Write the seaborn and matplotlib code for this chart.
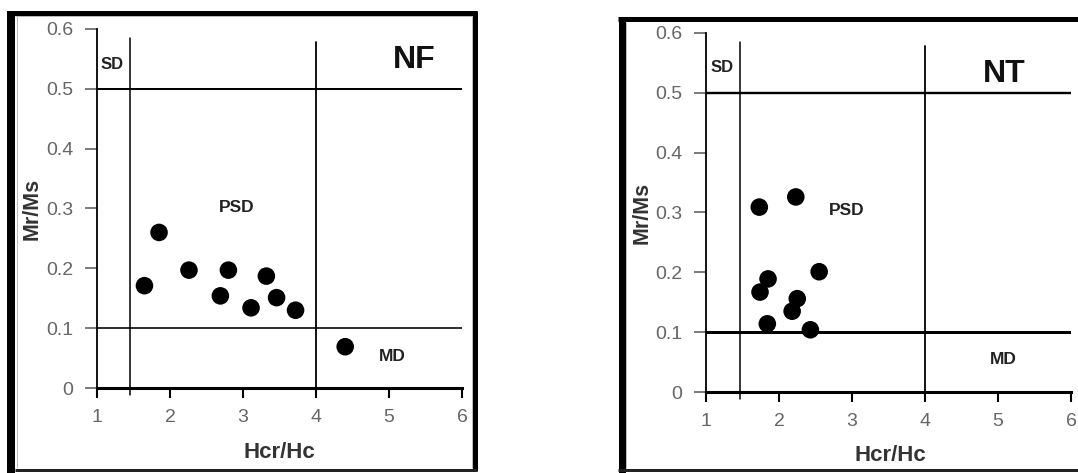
import matplotlib
matplotlib.use("Agg")
import matplotlib.pyplot as plt
from matplotlib.lines import Line2D
import seaborn as sns
import pandas as pd

# ---- data ----
nf_hcr_hc = [1.65, 1.85, 2.26, 2.80, 2.69, 3.11, 3.32, 3.46, 3.72, 4.40]
nf_mr_ms = [0.171, 0.260, 0.197, 0.197, 0.154, 0.134, 0.187, 0.151, 0.130, 0.069]
nt_hcr_hc = [1.73, 2.23, 1.85, 1.74, 2.25, 2.18, 2.55, 1.84, 2.43]
nt_mr_ms = [0.309, 0.326, 0.189, 0.167, 0.156, 0.135, 0.201, 0.114, 0.104]

x_ticks = [1, 2, 3, 4, 5, 6]
y_ticks = [0, 0.1, 0.2, 0.3, 0.4, 0.5, 0.6]
y_ticklabels = ["0", "0.1", "0.2", "0.3", "0.4", "0.5", "0.6"]

sd_psd_hcr = [1.45, 1.47]   # vertical boundary SD/PSD per panel
psd_md_hcr = 4.0
sd_psd_mr = 0.5
psd_md_mr = 0.1

sns.set_theme(style="white")
plt.rcParams["font.family"] = ["Liberation Sans", "DejaVu Sans"]

W, H = 1078, 473
fig = plt.figure(figsize=(W / 100, H / 100), dpi=100)
fig.patch.set_facecolor("white")

def px(x, y):
    return x / W, 1 - y / H

def fig_line(x0, y0, x1, y1, lw_px, color="black"):
    a = px(x0, y0)
    b = px(x1, y1)
    fig.add_artist(Line2D([a[0], b[0]], [a[1], b[1]], transform=fig.transFigure,
                          color=color, lw=lw_px * 0.72, solid_capstyle="butt"))

panels = [
    dict(name="NF", x=nf_hcr_hc, y=nf_mr_ms, rect=[97 / W, (H - 388) / H, 365 / W, 359 / H],
         vline=sd_psd_hcr[0], lw01=1.6, lw05=2.0, title_xy=(5.34, 0.548),
         sd=(1.2, 0.54), psd=(2.91, 0.302), md=(5.05, 0.053),
         ylab=(-0.178, 0.5), xlab=(0.501, -0.181)),
    dict(name="NT", x=nt_hcr_hc, y=nt_mr_ms, rect=[706 / W, (H - 392) / H, 365 / W, 359 / H],
         vline=sd_psd_hcr[1], lw01=3.0, lw05=2.4, title_xy=(5.09, 0.532),
         sd=(1.22, 0.542), psd=(2.93, 0.303), md=(5.07, 0.055),
         ylab=(-0.175, 0.5), xlab=(0.504, -0.178)),
]

for p in panels:
    ax = fig.add_axes(p["rect"])
    ax.set_facecolor("white")
    df = pd.DataFrame({"Hcr/Hc": p["x"], "Mr/Ms": p["y"]})
    sns.scatterplot(data=df, x="Hcr/Hc", y="Mr/Ms", ax=ax, s=160, color="black",
                    edgecolor="none", zorder=5, clip_on=False)
    ax.set_xlim(1, 6)
    ax.set_ylim(0, 0.6)

    # domain boundary lines
    ax.axhline(sd_psd_mr, color="black", lw=p["lw05"] * 0.72, zorder=3)
    ax.axhline(psd_md_mr, color="black", lw=p["lw01"] * 0.72, zorder=3)
    ax.plot([p["vline"], p["vline"]], [-0.012, 0.585], color="black", lw=1.1, clip_on=False, zorder=3)
    ax.plot([psd_md_hcr, psd_md_hcr], [-0.012, 0.578], color="black", lw=1.3, clip_on=False, zorder=3)

    for s in ["top", "right"]:
        ax.spines[s].set_visible(False)
    ax.spines["left"].set_color("black")
    ax.spines["left"].set_linewidth(1.3)
    ax.spines["bottom"].set_color("black")
    ax.spines["bottom"].set_linewidth(2.2)

    ax.set_xticks(x_ticks)
    ax.set_xticklabels([str(t) for t in x_ticks])
    ax.set_yticks(y_ticks)
    ax.set_yticklabels(y_ticklabels)
    ax.tick_params(axis="y", direction="out", length=9, width=1.1, color="#555555",
                   labelcolor="#666666", labelsize=14, pad=8, left=True)
    ax.tick_params(axis="x", direction="out", length=7, width=1.5, color="black",
                   labelcolor="#666666", labelsize=14, pad=8, bottom=True)

    ax.set_xlabel("Hcr/Hc", fontsize=16, fontweight="bold", color="#333333")
    ax.set_ylabel("Mr/Ms", fontsize=15.5, fontweight="bold", color="#333333")
    ax.xaxis.set_label_coords(*p["xlab"])
    ax.yaxis.set_label_coords(*p["ylab"])
    ax.xaxis.label.set_va("center")
    ax.yaxis.label.set_va("center")
    ax.yaxis.label.set_ha("center")

    ax.text(*p["title_xy"], p["name"], fontsize=23, fontweight="bold", color="#111111",
            ha="center", va="center")
    ax.text(*p["sd"], "SD", fontsize=12, fontweight="bold", color="#222222", ha="center", va="center")
    ax.text(*p["psd"], "PSD", fontsize=12.5, fontweight="bold", color="#222222", ha="center", va="center")
    ax.text(*p["md"], "MD", fontsize=12.5, fontweight="bold", color="#222222", ha="center", va="center")

# ---- frames around the panels ----
# left panel frame
fig_line(11, 11, 11, 473, 8)
fig_line(7, 13.5, 477, 13.5, 5)
fig_line(474.5, 11, 474.5, 471, 5)
fig_line(15, 469.5, 477, 469.5, 3, color="#222222")
fig_line(16.5, 16, 16.5, 468, 1, color="#bbbbbb")
fig_line(15, 16.5, 472, 16.5, 1, color="#bbbbbb")
fig_line(471.5, 16, 471.5, 468, 1, color="#bbbbbb")
# right panel frame
fig_line(621.5, 17, 621.5, 473, 7)
fig_line(618, 19.5, 1078, 19.5, 5)
fig_line(618, 469.5, 1078, 469.5, 3, color="#222222")
fig_line(626, 22, 626, 468, 1, color="#bbbbbb")

fig.savefig("out.png", dpi=100)
